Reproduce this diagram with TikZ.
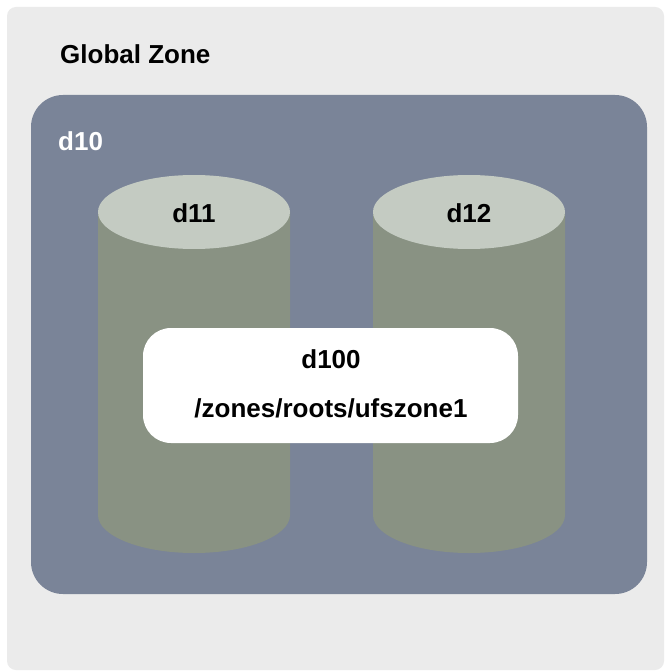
\documentclass[tikz,border=0pt]{standalone}
\usepackage{fontspec}
\setmainfont{Liberation Sans}
\definecolor{outerbg}{HTML}{EBEBEB}
\definecolor{zoneblue}{HTML}{7A8498}
\definecolor{cyltop}{HTML}{C4CBC2}
\definecolor{cylbody}{HTML}{899283}
\tikzset{
  lbl/.style={font=\fontsize{26}{30}\selectfont\bfseries, inner sep=0pt},
  cylbodystyle/.style={fill=cylbody, draw=none},
  cyltopstyle/.style={fill=cyltop, draw=none},
}
\begin{document}
\begin{tikzpicture}[x=1pt,y=-1pt]
\useasboundingbox (0,0) rectangle (665,671);
\fill[white] (0,0) rectangle (665,671);
% outer global zone
\fill[outerbg, rounded corners=9pt] (7,7) rectangle (664,670);
\node[lbl, anchor=base west] (gz) at (60,64) {Global Zone};
% d10
\fill[zoneblue, rounded corners=32pt] (31,95) rectangle (647,594);
\node[lbl, anchor=base west, text=white] (d10) at (58,150) {d10};
% cylinder d11
\fill[cylbodystyle] (98,212) -- (98,515) arc[start angle=180, end angle=0, x radius=96, y radius=38] -- (290,212) -- cycle;
\fill[cyltopstyle] (194,212) ellipse[x radius=96, y radius=37];
\node[lbl, anchor=base] (d11) at (194,222) {d11};
% cylinder d12
\fill[cylbodystyle] (373,212) -- (373,515) arc[start angle=180, end angle=0, x radius=96, y radius=38] -- (565,212) -- cycle;
\fill[cyltopstyle] (469,212) ellipse[x radius=96, y radius=37];
\node[lbl, anchor=base] (d12) at (469,222) {d12};
% d100
\fill[white, rounded corners=28pt] (143,328) rectangle (518,443);
\node[lbl, anchor=base] (d100) at (331,368) {d100};
\node[lbl, anchor=base] (path) at (331,417) {/zones/roots/ufszone1};
\end{tikzpicture}
\end{document}
